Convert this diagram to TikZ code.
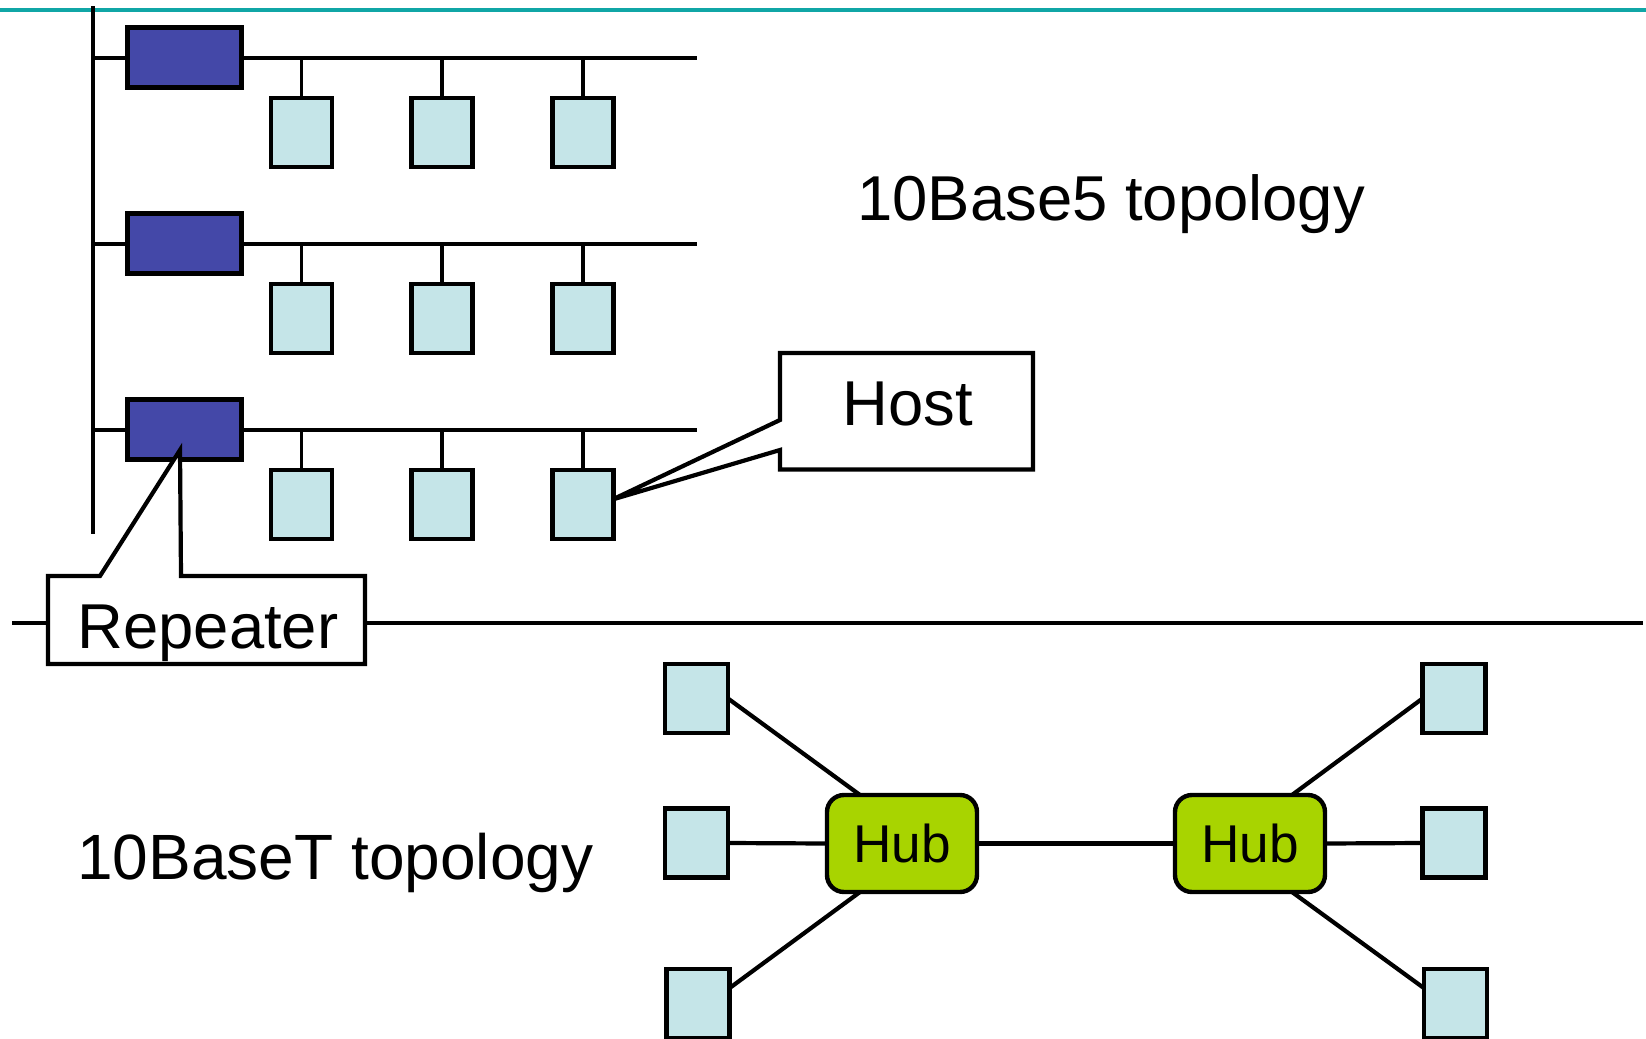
\documentclass[tikz,border=0pt]{standalone}
\usepackage{fontspec}
\setmainfont{Liberation Sans}
\usetikzlibrary{calc}
\definecolor{tealline}{RGB}{16,166,166}
\definecolor{repblue}{RGB}{68,72,168}
\definecolor{hostcyan}{RGB}{197,229,232}
\definecolor{hubgreen}{RGB}{168,212,0}
\begin{document}
\begin{tikzpicture}[x=0.5pt,y=-0.5pt,
  wire/.style={draw=black,line width=2.1pt},
  repbox/.style={draw=black,line width=2.2pt,fill=repblue,minimum width=57pt,minimum height=30pt,inner sep=0pt,outer sep=0pt},
  hostbox/.style={draw=black,line width=2.2pt,fill=hostcyan,minimum width=30.5pt,minimum height=34.5pt,inner sep=0pt,outer sep=0pt},
  lhost/.style={draw=black,line width=2.2pt,fill=hostcyan,minimum width=31.5pt,minimum height=34.5pt,inner sep=0pt,outer sep=0pt},
  hubbox/.style={draw=black,line width=2.2pt,fill=hubgreen,rounded corners=8.5pt,minimum width=75pt,minimum height=48.5pt,inner sep=0pt,outer sep=0pt},
  calloutline/.style={draw=black,line width=2.1pt,fill=white,line join=miter},
  bigtext/.style={inner sep=0pt,font=\fontsize{31.7pt}{38pt}\selectfont},
  hubtext/.style={inner sep=0pt,font=\fontsize{26.6pt}{32pt}\selectfont}]
\useasboundingbox (0,0) rectangle (1646,1039);
% top teal rule
\coordinate (tl) at (0,10);
\coordinate (tr) at (1646,10);
\draw[tealline,line width=2pt] (tl) -- (tr);
% backbone
\coordinate (vt) at (93,6);
\coordinate (vb) at (93,534);
\draw[wire] (vt) -- (vb);
% three segments
\foreach \r/\yy in {1/0,2/186,3/372}{
  \node[repbox] (rep\r) at (184.5,57.5+\yy) {};
  \coordinate (bL\r) at (93,58+\yy);
  \coordinate (bR\r) at (696.5,58+\yy);
  \draw[wire] (bL\r) -- (bL\r -| rep\r.west);
  \draw[wire] (bR\r -| rep\r.east) -- (bR\r);
  \foreach \c/\xx in {1/301.5,2/442,3/583}{
    \node[hostbox] (h\r\c) at (\xx,132.5+\yy) {};
    \draw[wire,line width=1.9pt] (h\r\c.north) -- (h\r\c.north |- bR\r);
  }
}
% 10Base5 label
\node[bigtext,anchor=base west] (t5) at (857,220.6) {10Base5 topology};
% Host callout
\coordinate (hA) at (780,353);
\coordinate (hB) at (1033,353);
\coordinate (hC) at (1033,469.5);
\coordinate (hD) at (780,469.5);
\coordinate (hE) at (780,450);
\coordinate (hF) at (780,420);
\coordinate (hT) at ($(h33.east)+(-1,-5)$);
\draw[calloutline] (hA) -- (hB) -- (hC) -- (hD) -- (hE) -- (hT) -- (hF) -- cycle;
\node[bigtext,anchor=base] (hostlbl) at (908,425) {Host};
% separator
\coordinate (sL) at (12,623);
\coordinate (sR) at (1643,623);
\draw[wire] (sL) -- (sR);
% Repeater callout
\coordinate (rA) at (48,576);
\coordinate (rB) at (100,576);
\coordinate (rT) at (180,450);
\coordinate (rC) at (181,576);
\coordinate (rD) at (365,576);
\coordinate (rE) at (365,664);
\coordinate (rF) at (48,664);
\draw[calloutline] (rA) -- (rB) -- (rT) -- (rC) -- (rD) -- (rE) -- (rF) -- cycle;
\node[bigtext,anchor=base] (replbl) at (208,648.3) {Repeater};
% 10BaseT label
\node[bigtext,anchor=base west,font=\fontsize{32pt}{38pt}\selectfont] (tT) at (77,879) {10BaseT topology};
% hubs
\node[hubbox] (hub1) at (902,843.5) {};
\node[hubbox] (hub2) at (1250,843.5) {};
\node[hubtext,anchor=base] (hubl1) at (902,862) {Hub};
\node[hubtext,anchor=base] (hubl2) at (1250,862) {Hub};
% star hosts
\node[lhost] (hl1) at (696.5,698.5) {};
\node[lhost] (hl2) at (696.5,843) {};
\node[lhost] (hl3) at (698,1003.5) {};
\node[lhost] (hr1) at (1454,698.5) {};
\node[lhost] (hr2) at (1454,843) {};
\node[lhost] (hr3) at (1455.5,1003.5) {};
\draw[wire] (hl1.east) -- ($(hub1.north)+(-42,0)$);
\draw[wire] (hl2.east) -- (hub1.west);
\draw[wire] (hl3.26) -- ($(hub1.south)+(-42,0)$);
\draw[wire] (hub1.east) -- (hub2.west);
\draw[wire] (hr1.west) -- ($(hub2.north)+(42,0)$);
\draw[wire] (hr2.west) -- (hub2.east);
\draw[wire] (hr3.154) -- ($(hub2.south)+(42,0)$);
\end{tikzpicture}
\end{document}
